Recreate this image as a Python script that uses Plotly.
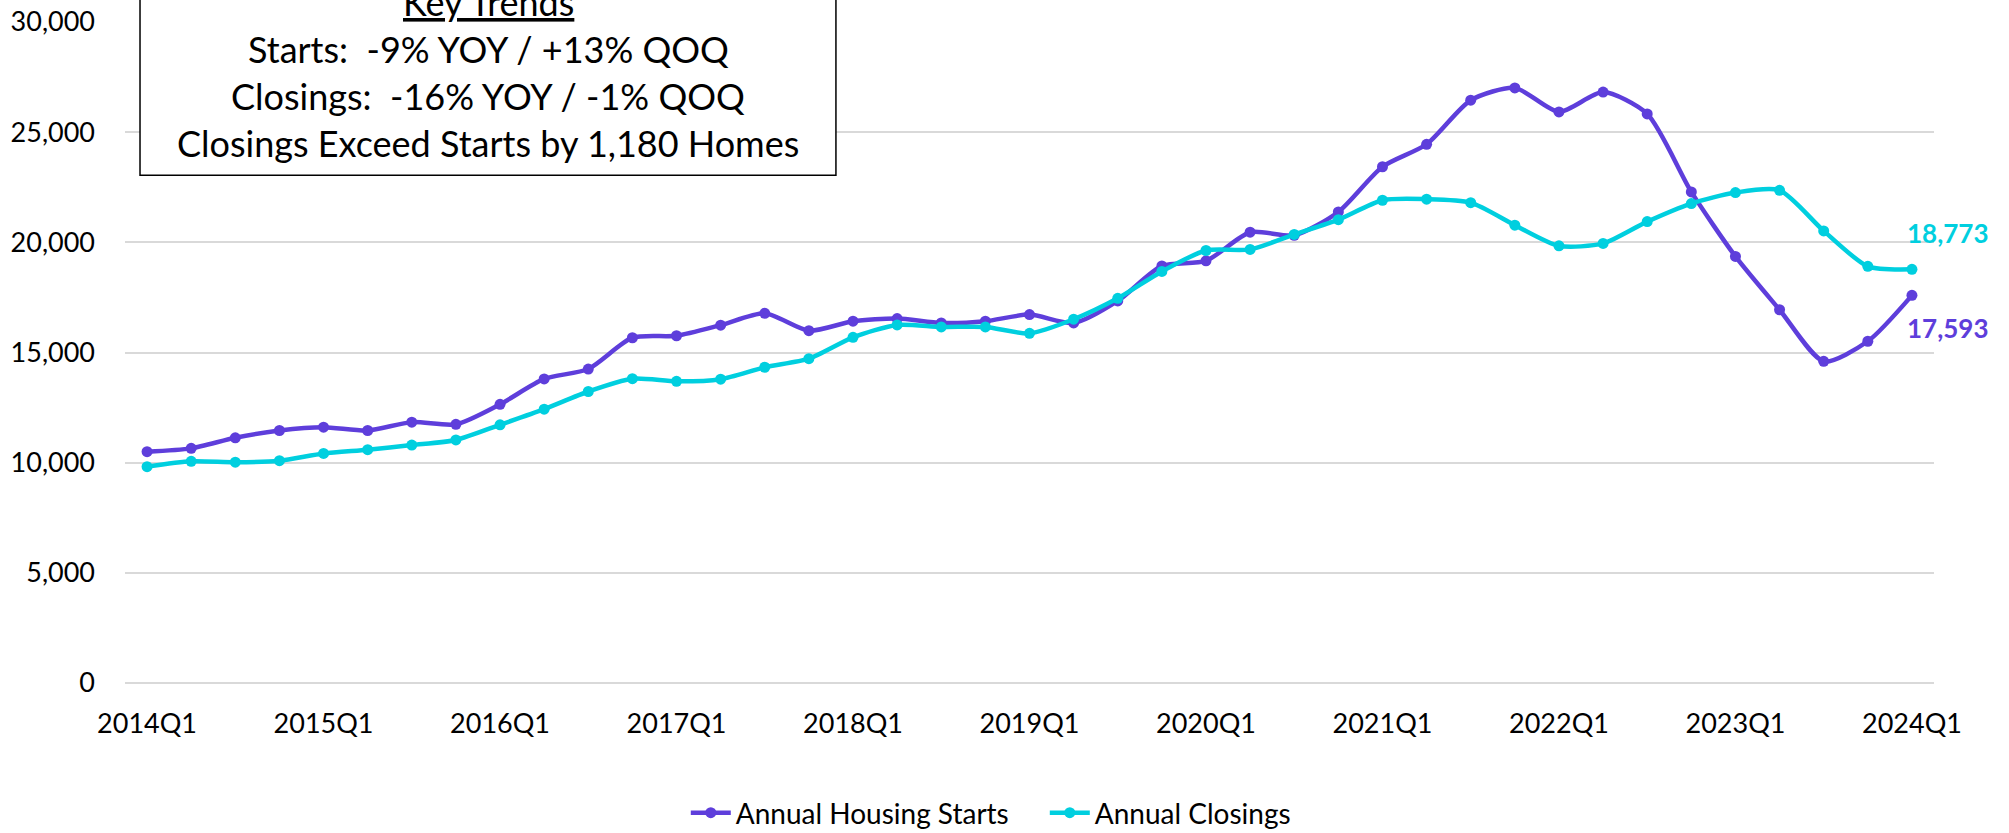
import plotly.graph_objects as go

quarters = [f"{y}Q{q}" for y in range(2014, 2024) for q in range(1, 5)] + ["2024Q1"]

starts = [10500, 10650, 11130, 11460, 11610, 11460, 11840, 11740, 12650, 13800,
          14250, 15670, 15760, 16240, 16780, 15990, 16420, 16540, 16340, 16420,
          16720, 16340, 17340, 18930, 19160, 20460, 20320, 21380, 23430, 24450,
          26450, 27010, 25920, 26820, 25830, 22290, 19360, 16940, 14600, 15510,
          17593]

closings = [9820, 10060, 10020, 10090, 10420, 10590, 10800, 11030, 11720, 12430,
            13230, 13810, 13690, 13790, 14330, 14720, 15690, 16250, 16160, 16160,
            15870, 16510, 17460, 18680, 19630, 19680, 20360, 21030, 21910, 21960,
            21800, 20780, 19840, 19950, 20940, 21760, 22260, 22360, 20520, 18910,
            18773]

series_names = ["Annual Housing Starts", "Annual Closings"]
y_ticks = [0, 5000, 10000, 15000, 20000, 25000, 30000]
x_ticks = quarters[::4]

key_title = "Key Trends"
key_lines = [
    "Starts:\u00a0 -9% YOY / +13% QOQ",
    "Closings:\u00a0 -16% YOY / -1% QOQ",
    "Closings Exceed Starts by 1,180 Homes",
]

PURPLE = "#5E3EDB"
CYAN = "#00CFDF"
FONT = "Lato"

fig = go.Figure()
for name, vals, col in [(series_names[0], starts, PURPLE), (series_names[1], closings, CYAN)]:
    fig.add_trace(go.Scatter(
        x=quarters, y=vals, name=name, mode="lines+markers",
        line=dict(color=col, width=4.5, shape="spline", smoothing=0.7),
        marker=dict(color=col, size=11),
    ))

# end-point data labels
fig.add_annotation(x=quarters[-1], y=closings[-1], text=f"<b>{closings[-1]:,}</b>",
                   showarrow=False, xshift=36, yshift=36,
                   font=dict(family=FONT, size=26, color=CYAN))
fig.add_annotation(x=quarters[-1], y=starts[-1], text=f"<b>{starts[-1]:,}</b>",
                   showarrow=False, xshift=36, yshift=-33,
                   font=dict(family=FONT, size=26, color=PURPLE))

# Key trends box
fig.add_shape(type="rect", xref="paper", yref="paper",
              x0=0.0083, x1=0.393, y0=0.768, y1=1.2,
              line=dict(color="#000000", width=1.5), fillcolor="white", layer="above")
fig.add_annotation(xref="paper", yref="paper", x=0.2007, y=1.030, xanchor="center",
                   yanchor="middle", text=f"<u>{key_title}</u>", showarrow=False,
                   font=dict(family=FONT, size=36, color="black"))
for txt, yy in zip(key_lines, [0.959, 0.888, 0.817]):
    fig.add_annotation(xref="paper", yref="paper", x=0.2007, y=yy, xanchor="center",
                       yanchor="middle", text=txt, showarrow=False,
                       font=dict(family=FONT, size=36, color="black"))

fig.update_layout(
    width=2009, height=833,
    margin=dict(l=125, r=75, t=22, b=150, autoexpand=False),
    paper_bgcolor="white", plot_bgcolor="white",
    font=dict(family=FONT, size=27, color="black"),
    showlegend=True,
    legend=dict(orientation="h", x=0.310, xanchor="left",
                yref="container", y=0.024, yanchor="middle",
                font=dict(family=FONT, size=28, color="black"), itemwidth=40,
                entrywidth=304, entrywidthmode="pixels",
                traceorder="normal"),
    hovermode=False,
)
fig.update_xaxes(type="category", range=[-0.5, 40.5], tickvals=x_ticks, ticktext=x_ticks,
                 showgrid=False, showline=False, zeroline=False, ticks="", automargin=False,
                 ticklabelstandoff=22, tickfont=dict(family=FONT, size=27, color="black"))
fig.update_yaxes(range=[0, 30000], tickvals=y_ticks, tickformat=",d", automargin=False,
                 showgrid=True, gridcolor="#D9D9D9", gridwidth=1.5,
                 zeroline=True, zerolinecolor="#D9D9D9", zerolinewidth=1.5,
                 showline=False, ticks="", ticklabelstandoff=29, ticklabeloverflow="allow",
                 tickfont=dict(family=FONT, size=27, color="black"))

# remove the default page margin so the figure sits exactly in the window
fig.write_html("out.html", config={"displayModeBar": False},
               post_script="document.body.style.margin='0';")
